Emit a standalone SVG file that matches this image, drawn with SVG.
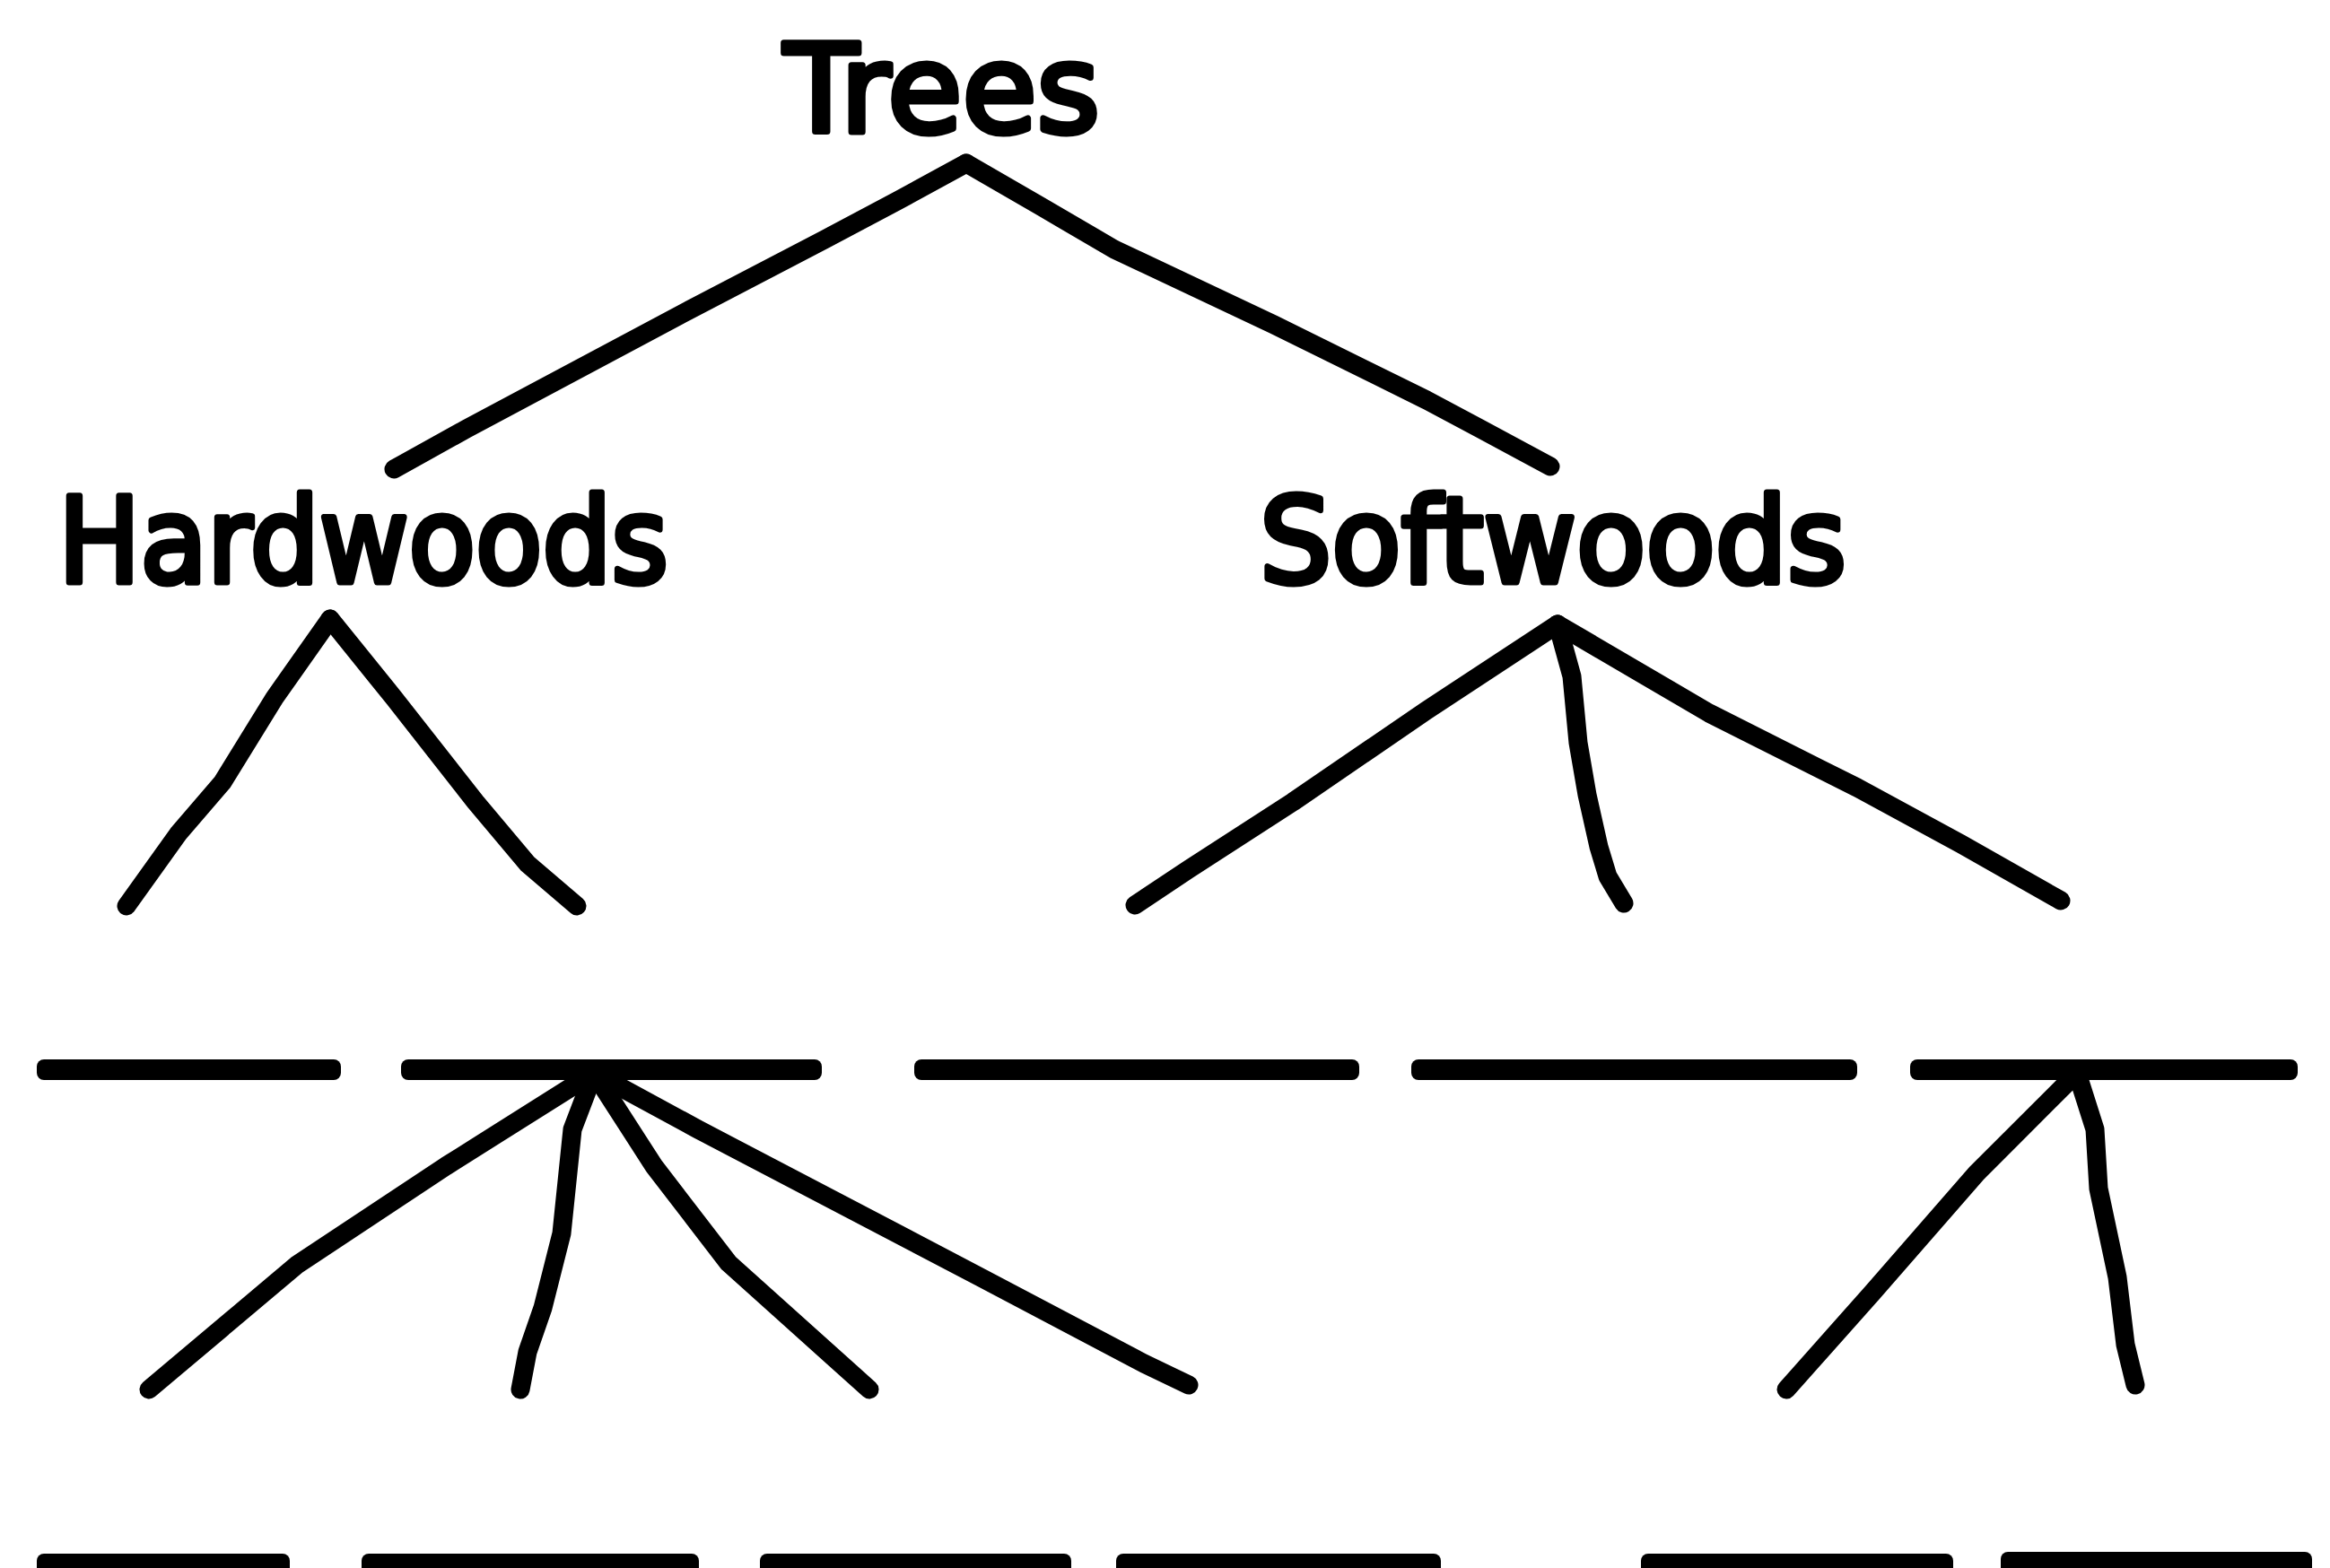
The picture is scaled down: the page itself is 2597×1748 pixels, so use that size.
<svg xmlns="http://www.w3.org/2000/svg" width="2597" height="1748" viewBox="0 0 2597 1748">
  <style>
    .label { font-family: "DejaVu Sans", "Liberation Sans", sans-serif; font-weight: normal; fill: #000; stroke: #000; stroke-width: 7; stroke-linejoin: round; }
    .branch { fill: none; stroke: #000; stroke-width: 21; stroke-linecap: round; stroke-linejoin: round; }
    .blank { fill: #000; }
  </style>
  <rect width="2597" height="1748" fill="#fff"/>

  <!-- branches of the tree -->
  <g id="connectors">
    <!-- Trees to its two groups -->
    <polyline class="branch" points="1077,182 1000,224 919,267 760,350 580,446 520,478 439,523"/>
    <polyline class="branch" points="1077,182 1160,230 1242,278 1420,362 1590,446 1650,478 1728,520"/>
    <!-- Hardwoods to its two blanks -->
    <polyline class="branch" points="368,690 306,778 248,872 199,929 141,1010"/>
    <polyline class="branch" points="368,690 439,778 530,894 588,963 643,1010"/>
    <!-- Softwoods to its three blanks -->
    <polyline class="branch" points="1736,696 1590,792 1441,894 1325,969 1265,1009"/>
    <polyline class="branch" points="1736,696 1752,754 1759,828 1769,886 1782,944 1792,977 1810,1007"/>
    <polyline class="branch" points="1736,696 1905,795 2070,878 2186,941 2297,1004"/>
    <!-- second blank to four blanks below -->
    <polyline class="branch" points="662,1196 497,1300 331,1410 166,1549"/>
    <polyline class="branch" points="662,1196 638,1259 626,1375 605,1458 588,1507 580,1549"/>
    <polyline class="branch" points="662,1196 729,1300 812,1408 969,1549"/>
    <polyline class="branch" points="662,1196 778,1259 1093,1424 1275,1520 1325,1544"/>
    <!-- fifth blank to two blanks below -->
    <polyline class="branch" points="2315,1196 2203,1308 2087,1441 1991,1549"/>
    <polyline class="branch" points="2315,1196 2335,1259 2339,1325 2360,1424 2369,1499 2380,1544"/>
  </g>

  <g id="node-trees">
    <text class="label" x="874" y="147" font-size="136" textLength="352" lengthAdjust="spacingAndGlyphs">Trees</text>
  </g>
  <g id="node-hardwoods">
    <text class="label" x="65" y="649" font-size="132" textLength="680" lengthAdjust="spacingAndGlyphs">Hardwoods</text>
  </g>
  <g id="node-softwoods">
    <text class="label" x="1404" y="649" font-size="132" textLength="654" lengthAdjust="spacingAndGlyphs">Softwoods</text>
  </g>

  <!-- second row of blanks -->
  <g id="blank-row2-1"><rect class="blank" x="41" y="1181" width="339" height="23" rx="8"/></g>
  <g id="blank-row2-2"><rect class="blank" x="447" y="1181" width="469" height="23" rx="8"/></g>
  <g id="blank-row2-3"><rect class="blank" x="1019" y="1181" width="496" height="23" rx="8"/></g>
  <g id="blank-row2-4"><rect class="blank" x="1573" y="1181" width="497" height="23" rx="8"/></g>
  <g id="blank-row2-5"><rect class="blank" x="2129" y="1181" width="432" height="23" rx="8"/></g>

  <!-- third row of blanks, running off the bottom edge -->
  <g id="blank-row3-1"><rect class="blank" x="41" y="1732" width="282" height="30" rx="8"/></g>
  <g id="blank-row3-2"><rect class="blank" x="403" y="1732" width="376" height="30" rx="8"/></g>
  <g id="blank-row3-3"><rect class="blank" x="847" y="1732" width="347" height="30" rx="8"/></g>
  <g id="blank-row3-4"><rect class="blank" x="1244" y="1732" width="362" height="30" rx="8"/></g>
  <g id="blank-row3-5"><rect class="blank" x="1829" y="1732" width="348" height="30" rx="8"/></g>
  <g id="blank-row3-6"><rect class="blank" x="2230" y="1730" width="347" height="30" rx="8"/></g>
</svg>
